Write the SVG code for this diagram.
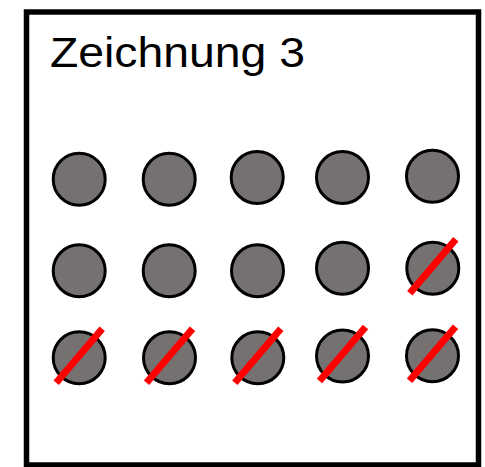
<svg xmlns="http://www.w3.org/2000/svg" width="485" height="467" viewBox="0 0 485 467">
<style>
.frame{fill:#fff;stroke:#000;stroke-width:5.5}
.dot{fill:#767171;stroke:#000;stroke-width:3}
.cross{stroke:#f00;stroke-width:7;stroke-linecap:butt}
.title{font-family:"Liberation Sans",Arial,sans-serif;font-size:42px;fill:#000}
</style>
<defs>
<circle id="c" r="26" class="dot"/>
<line id="x" x1="-23" y1="25" x2="23" y2="-29" class="cross"/>
</defs>
<rect width="485" height="467" fill="#fff"/>
<g id="frame">
<rect class="frame" x="26.5" y="12" width="452" height="453"/>
<text class="title" x="50" y="66.5" textLength="255" lengthAdjust="spacingAndGlyphs">Zeichnung 3</text>
</g>
<g id="row1">
<g id="n11"><use href="#c" x="79.2" y="179.2"/></g>
<g id="n12"><use href="#c" x="169.2" y="179.2"/></g>
<g id="n13"><use href="#c" x="257.2" y="177.5"/></g>
<g id="n14"><use href="#c" x="342.5" y="177.5"/></g>
<g id="n15"><use href="#c" x="432.5" y="176.3"/></g>
</g>
<g id="row2">
<g id="n21"><use href="#c" x="79.2" y="270.8"/></g>
<g id="n22"><use href="#c" x="169.2" y="270.8"/></g>
<g id="n23"><use href="#c" x="257.5" y="270.8"/></g>
<g id="n24"><use href="#c" x="342.5" y="268.3"/></g>
<g id="n25"><use href="#c" x="432.8" y="268.3"/></g>
</g>
<g id="row3">
<g id="n31"><use href="#c" x="79.2" y="357.8"/></g>
<g id="n32"><use href="#c" x="169.5" y="357.8"/></g>
<g id="n33"><use href="#c" x="257.8" y="357.8"/></g>
<g id="n34"><use href="#c" x="342.5" y="356"/></g>
<g id="n35"><use href="#c" x="432.5" y="355.8"/></g>
</g>
<g id="strikes">
<use href="#x" x="432.8" y="268.3"/>
<use href="#x" x="79.2" y="357.8"/>
<use href="#x" x="169.5" y="357.8"/>
<use href="#x" x="257.8" y="357.8"/>
<use href="#x" x="342.5" y="356"/>
<use href="#x" x="432.5" y="355.8"/>
</g>
</svg>
